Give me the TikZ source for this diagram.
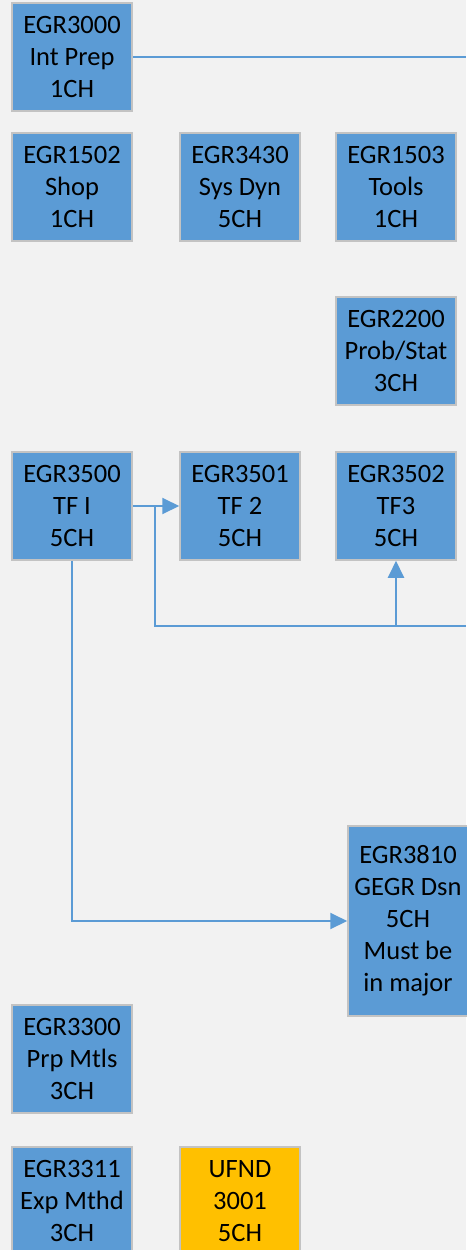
\documentclass[tikz,border=0pt]{standalone}
\usepackage{fontspec}
\setmainfont{Carlito}
\usetikzlibrary{arrows.meta}
\definecolor{course}{HTML}{5B9BD5}
\definecolor{core}{HTML}{FFC000}
\definecolor{edgegray}{HTML}{C3C3C3}
\definecolor{paper}{HTML}{F2F2F2}
\begin{document}
\begin{tikzpicture}[x=1pt,y=-1pt]

        \fill[paper] (0,0) rectangle (466,1250);
        \useasboundingbox (0,0) rectangle (466,1250);

        \begin{scope}[every node/.style={rectangle, draw=edgegray, line width=1.5pt, fill=course,
            minimum width=120pt, minimum height=108pt, inner sep=0pt, align=center,
            font=\fontsize{26.5}{32}\selectfont}]
          \node (i3000) at (72,57)   {EGR3000\\Int Prep\\1CH};
          \node (s1502) at (72,187)  {EGR1502\\Shop\\1CH};
          \node (d3430) at (240,187) {EGR3430\\Sys Dyn\\5CH};
          \node (t1503) at (396,187) {EGR1503\\Tools\\1CH};
          \node (p2200) at (396,351) {EGR2200\\Prob/Stat\\3CH};
          \node (tf1)   at (72,506)  {EGR3500\\TF I\\5CH};
          \node (tf2)   at (240,506) {EGR3501\\TF 2\\5CH};
          \node (tf3)   at (396,506) {EGR3502\\TF3\\5CH};
          \node[minimum height=190pt] (gd) at (408,921) {EGR3810\\GEGR Dsn\\5CH\\Must be\\in major};
          \node (pm)    at (72,1059) {EGR3300\\Prp Mtls\\3CH};
          \node (em)    at (72,1201) {EGR3311\\Exp Mthd\\3CH};
          \node[fill=core] (uf) at (240,1201) {UFND\\3001\\5CH};
        \end{scope}

        \coordinate (r1) at (466,57);
        \coordinate (j1) at (155,506);
        \coordinate (c1) at (396,626);
        \coordinate (r2) at (466,626);

        \begin{scope}[course, line width=2pt, >={Triangle[length=17pt,width=16pt]}]
          \draw (i3000) -- (r1);
          \draw[->] (tf1) -- (tf2);
          \draw (j1) -- (j1 |- r2) -- (r2);
          \draw[->] (c1) -- (tf3);
          \draw[->] (tf1) |- (gd);
        \end{scope}

      \end{tikzpicture}
\end{document}
